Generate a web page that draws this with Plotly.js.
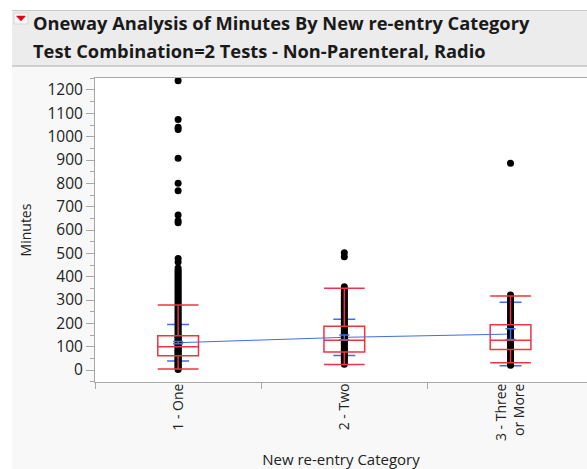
<!DOCTYPE html>
<html>
<head>
<meta charset="utf-8">
<script src="https://cdn.plot.ly/plotly-3.0.1.min.js"></script>
<style>html,body{margin:0;padding:0;overflow:hidden;background:#f8f8f8;}</style>
</head>
<body>
<div id="chart" style="width:587px;height:469px;"></div>
<script>
// ---- data ----
const categories = ['1 - One', '2 - Two', '3 - Three<br>or More'];

const group1Minutes = [2, 6, 10, 15, 20, 25, 30, 35, 40, 45, 50, 55, 60, 65, 70, 75, 80, 85, 90, 95,
  100, 105, 110, 115, 120, 125, 130, 135, 140, 145, 150, 158, 165, 172, 180, 188, 195, 203, 210, 218,
  225, 233, 240, 248, 255, 263, 270, 278, 285, 293, 300, 308, 315, 323, 330, 338, 345, 353, 360, 368,
  375, 383, 390, 398, 405, 413, 420, 428, 437, 463, 478, 631, 640, 664, 768, 800, 907, 1031, 1040, 1074, 1240];

const group2Minutes = [25, 32, 40, 48, 55, 62, 70, 77, 85, 92, 100, 107, 115, 122, 130, 137, 145, 152,
  160, 167, 175, 182, 190, 197, 205, 212, 220, 228, 236, 244, 252, 260, 268, 276, 284, 292, 300, 308,
  316, 324, 332, 340, 348, 357, 485, 502];

const group3Minutes = [20, 30, 40, 52, 62, 74, 85, 96, 108, 118, 128, 138, 148, 158, 168, 180, 192,
  204, 215, 226, 238, 250, 262, 274, 285, 296, 308, 321, 886];

const boxQ1 = [61, 77, 88];
const boxMedian = [100, 127, 127];
const boxQ3 = [147, 187, 194];
const boxLowerWhisker = [4, 24, 31];
const boxUpperWhisker = [279, 350, 317];

const groupMeans = [117, 140, 154];
const groupStdDev = [78, 78, 136];
const groupMeanCI = [5, 10, 23];

// ---- styling ----
const RED = '#ee3444';
const BLUE = '#3f6fe6';
const AXIS = '#a8a8a8';
const TXT = '#222222';
const FONT = 'Open Sans, Noto Sans, sans-serif';

// plot-area geometry (px) used for paper-referenced decoration
const L = 95, T = 78, W = 492, H = 304;
const px = x => (x - L) / W;
const py = y => (T + H - y) / H;

function repeatCat(cat, n) { const a = []; for (let i = 0; i < n; i++) a.push(cat); return a; }
const allX = [].concat(
  repeatCat(categories[0], group1Minutes.length),
  repeatCat(categories[1], group2Minutes.length),
  repeatCat(categories[2], group3Minutes.length));
const allY = [].concat(group1Minutes, group2Minutes, group3Minutes);

const traces = [
  { // means connect line
    type: 'scatter', mode: 'lines', x: categories, y: groupMeans,
    line: { color: BLUE, width: 1 }, hoverinfo: 'skip', showlegend: false
  },
  { // std dev lines
    type: 'scatter', mode: 'markers', x: categories, y: groupMeans,
    marker: { size: 1, color: 'rgba(0,0,0,0)' },
    error_y: { type: 'data', array: groupStdDev, visible: true, color: BLUE, thickness: 1.5, width: 11 },
    hoverinfo: 'skip', showlegend: false
  },
  { // data points
    type: 'scatter', mode: 'markers', x: allX, y: allY,
    marker: { size: 7, color: '#000000' }, showlegend: false
  },
  { // quantile boxes (overlay so they sit above the points)
    type: 'box', x: categories, q1: boxQ1, median: boxMedian, q3: boxQ3,
    lowerfence: boxLowerWhisker, upperfence: boxUpperWhisker,
    width: 0.245, whiskerwidth: 1, boxpoints: false,
    line: { color: RED, width: 1.5 }, fillcolor: 'rgba(0,0,0,0)',
    xaxis: 'x2', yaxis: 'y2', showlegend: false
  },
  { // mean confidence ticks
    type: 'scatter', mode: 'markers', x: categories, y: groupMeans,
    marker: { size: 1, color: 'rgba(0,0,0,0)' },
    error_y: { type: 'data', array: groupMeanCI, visible: true, color: BLUE, thickness: 1.5, width: 5 },
    xaxis: 'x2', yaxis: 'y2', hoverinfo: 'skip', showlegend: false
  }
];

const xRange = [-0.5, 2.46];
const yRange = [-51.4, 1251.4];

const layout = {
  width: 587, height: 469,
  margin: { l: L, r: 0, t: T, b: 469 - T - H, pad: 0 },
  paper_bgcolor: '#f8f8f8', plot_bgcolor: '#ffffff',
  font: { family: FONT, color: TXT },
  showlegend: false,
  xaxis: {
    type: 'category', categoryorder: 'array', categoryarray: categories,
    range: xRange, fixedrange: true,
    showline: true, linecolor: AXIS, linewidth: 1, mirror: true,
    showgrid: false, zeroline: false,
    tickson: 'boundaries', ticks: 'outside', ticklen: 6, tickcolor: AXIS,
    tickangle: -90, tickfont: { size: 14, color: TXT, family: FONT },
    ticklabelstandoff: -5,
    title: { text: 'New re-entry Category', font: { size: 15, color: TXT, family: FONT }, standoff: 26 }
  },
  yaxis: {
    range: yRange, fixedrange: true,
    tick0: 0, dtick: 100,
    showline: true, linecolor: AXIS, linewidth: 1,
    showgrid: false, zeroline: false,
    ticks: 'outside', ticklen: 8, tickcolor: AXIS,
    minor: { dtick: 50, ticks: 'outside', ticklen: 4, tickcolor: AXIS, showgrid: false },
    tickfont: { size: 15.5, color: TXT, family: FONT },
    title: { text: 'Minutes', font: { size: 14, color: TXT, family: FONT }, standoff: 12 }
  },
  xaxis2: {
    type: 'category', categoryorder: 'array', categoryarray: categories,
    range: xRange, overlaying: 'x', visible: false, fixedrange: true
  },
  yaxis2: {
    range: yRange, overlaying: 'y', visible: false, fixedrange: true
  },
  shapes: [
    { type: 'rect', xref: 'paper', yref: 'paper', x0: px(0), x1: px(12), y0: py(469), y1: py(0),
      fillcolor: '#ffffff', line: { width: 0 }, layer: 'below' },
    { type: 'rect', xref: 'paper', yref: 'paper', x0: px(0), x1: px(587), y0: py(10), y1: py(0),
      fillcolor: '#ffffff', line: { width: 0 }, layer: 'below' },
    { type: 'rect', xref: 'paper', yref: 'paper', x0: px(12), x1: px(587), y0: py(66), y1: py(10),
      fillcolor: '#ececec', line: { width: 0 }, layer: 'below' },
    { type: 'line', xref: 'paper', yref: 'paper', x0: px(12), x1: px(587), y0: py(10.5), y1: py(10.5),
      line: { color: '#c8c8c8', width: 1 } },
    { type: 'line', xref: 'paper', yref: 'paper', x0: px(12), x1: px(587), y0: py(66), y1: py(66),
      line: { color: '#c4c4c4', width: 1.5 } },
    { type: 'rect', xref: 'paper', yref: 'paper', x0: px(14), x1: px(28), y0: py(24), y1: py(13),
      fillcolor: '#f6f6f6', line: { color: '#d6d6d6', width: 1 } },
    { type: 'path', xref: 'paper', yref: 'paper',
      path: 'M ' + px(16.5) + ' ' + py(16) + ' L ' + px(25.5) + ' ' + py(16) + ' L ' + px(21) + ' ' + py(21) + ' Z',
      fillcolor: '#e00018', line: { color: '#e00018', width: 0.5 } }
  ],
  annotations: [
    { xref: 'paper', yref: 'paper', x: px(31), y: py(23), xanchor: 'left', yanchor: 'middle',
      text: '<b>Oneway Analysis of Minutes By New re-entry Category</b>', showarrow: false,
      font: { size: 18.3, color: '#1a1a1a', family: FONT } },
    { xref: 'paper', yref: 'paper', x: px(31), y: py(51), xanchor: 'left', yanchor: 'middle',
      text: '<b>Test Combination=2 Tests - Non-Parenteral, Radio</b>', showarrow: false,
      font: { size: 18.3, color: '#1a1a1a', family: FONT } }
  ]
};

Plotly.newPlot('chart', traces, layout, { displayModeBar: false, staticPlot: true });
</script>
</body>
</html>
